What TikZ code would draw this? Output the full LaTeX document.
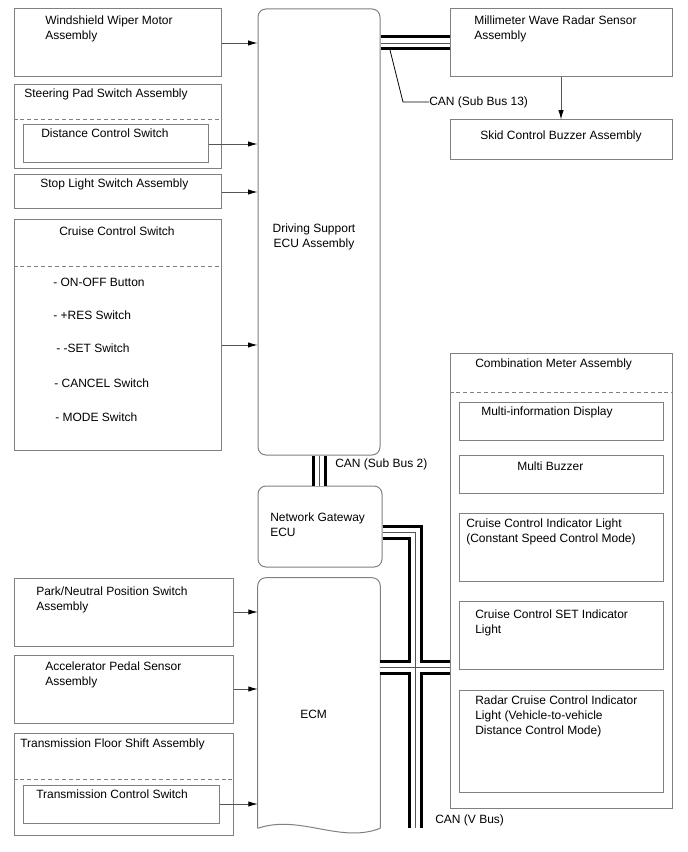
\documentclass[tikz,border=0pt]{standalone}
\usepackage{fontspec}
\setmainfont{Liberation Sans}
\usepackage{tikz}
\usetikzlibrary{arrows.meta, positioning, calc, fit}
\definecolor{boxgray}{RGB}{128,128,128}
\definecolor{wiregray}{RGB}{85,85,85}
\tikzset{
  box/.style={rectangle, draw=boxgray, line width=0.75pt, inner sep=0pt},
  ecubox/.style={box, rounded corners=6pt},
  sepline/.style={draw=boxgray, line width=0.6pt, dash pattern=on 3pt off 2.2pt},
  lbl/.style={font=\fontsize{9}{11.25}\selectfont, inner sep=0pt, anchor=north west, align=left},
  arr/.style={-{Latex[length=7pt,width=4pt,color=black]}, draw=wiregray, line width=0.6pt},
  leader/.style={draw=black, line width=0.6pt},
  busblack/.style={line width=11.25pt, draw=black},
  buswhite/.style={line width=6.75pt, draw=white},
  buswire/.style={line width=0.6pt, draw=wiregray}
}
\begin{document}
\begin{tikzpicture}[x=0.75pt, y=-0.75pt]
  \useasboundingbox (0,0) rectangle (688,852);

  % Left column, upper
  \node[box, fit={(14,9) (221,77)}] (wiper) {};
  \node[lbl] (wiper-t) at (45,15.5) {Windshield Wiper Motor\\Assembly};

  \node[box, fit={(14,85) (221,169)}] (steer) {};
  \node[lbl] (steer-t) at (24,88.5) {Steering Pad Switch Assembly};
  \draw[sepline] (steer.west |- 0,119) -- (steer.east |- 0,119);
  \node[box, fit={(23,125) (208,163)}] (dist) {};
  \node[lbl] (dist-t) at (41,128.5) {Distance Control Switch};

  \node[box, fit={(14,175) (221,209)}] (stop) {};
  \node[lbl] (stop-t) at (40,178.5) {Stop Light Switch Assembly};

  \node[box, fit={(14,220) (221,450)}] (cruise) {};
  \node[lbl, anchor=north] (cruise-t) at (117,226.5) {Cruise Control Switch};
  \draw[sepline] (cruise.west |- 0,266) -- (cruise.east |- 0,266);
  \node[lbl] (onoff) at (53,277.5) {- ON-OFF Button};
  \node[lbl] (res) at (53,310.5) {- +RES Switch};
  \node[lbl] (set) at (56,344) {- -SET Switch};
  \node[lbl] (cancel) at (54,379) {- CANCEL Switch};
  \node[lbl] (mode) at (55,413) {- MODE Switch};

  % ECUs
  \node[ecubox, fit={(258,9) (380,455)}] (dsecu) {};
  \node[lbl, anchor=north, align=center] (dsecu-t) at (314,223.5) {Driving Support\\ECU Assembly};

  \node[ecubox, fit={(258,486) (382,567)}] (gw) {};
  \node[lbl] (gw-t) at (270,512.5) {Network Gateway\\ECU};

  \node[inner sep=0pt, fit={(258,578) (380,828)}] (ecm) {};
  \draw[draw=boxgray, line width=0.75pt, rounded corners=6pt]
    (ecm.south west) -- (ecm.north west) -- (ecm.north east) -- (ecm.south east);
  \draw[draw=boxgray, line width=0.75pt]
    (ecm.south east) .. controls (340,844) and (300,814) .. (ecm.south west);
  \node[lbl] (ecm-t) at (300,709.5) {ECM};

  % Left column, lower
  \node[box, fit={(14,578) (233,646)}] (park) {};
  \node[lbl] (park-t) at (36,586.5) {Park/Neutral Position Switch\\Assembly};

  \node[box, fit={(14,655) (233,723)}] (accel) {};
  \node[lbl] (accel-t) at (45,661.5) {Accelerator Pedal Sensor\\Assembly};

  \node[box, fit={(14,733) (233,835)}] (trans) {};
  \node[lbl] (trans-t) at (20,738.5) {Transmission Floor Shift Assembly};
  \draw[sepline] (trans.west |- 0,779) -- (trans.east |- 0,779);
  \node[box, fit={(23,785) (219,823)}] (tcs) {};
  \node[lbl] (tcs-t) at (36,789.5) {Transmission Control Switch};

  % Right column
  \node[box, fit={(450,9) (672,77)}] (radar) {};
  \node[lbl] (radar-t) at (474,15.5) {Millimeter Wave Radar Sensor\\Assembly};

  \node[box, fit={(450,120) (672,160)}] (skid) {};
  \node[lbl] (skid-t) at (480,130.5) {Skid Control Buzzer Assembly};

  \node[box, fit={(450,353) (672,808)}] (meter) {};
  \node[lbl] (meter-t) at (475,359) {Combination Meter Assembly};
  \draw[sepline] (meter.west |- 0,392) -- (meter.east |- 0,392);
  \node[box, fit={(459,402) (663,440)}] (mid) {};
  \node[lbl] (mid-t) at (481,407) {Multi-information Display};
  \node[box, fit={(459,455) (663,493)}] (buzz) {};
  \node[lbl] (buzz-t) at (517,462) {Multi Buzzer};
  \node[box, fit={(459,513) (663,581)}] (ccind) {};
  \node[lbl] (ccind-t) at (466,518.5) {Cruise Control Indicator Light\\(Constant Speed Control Mode)};
  \node[box, fit={(459,601) (663,669)}] (setind) {};
  \node[lbl] (setind-t) at (475,609.5) {Cruise Control SET Indicator\\Light};
  \node[box, fit={(459,690) (663,792)}] (rcind) {};
  \node[lbl] (rcind-t) at (475,695.5) {Radar Cruise Control Indicator\\Light (Vehicle-to-vehicle\\Distance Control Mode)};

  % Signal arrows
  \draw[arr] (wiper.east) -- (wiper.east -| dsecu.west);
  \draw[arr] (dist.east) -- (dist.east -| dsecu.west);
  \draw[arr] (stop.east) -- (stop.east -| dsecu.west);
  \coordinate (ccout) at ([shift={(0,10)}]cruise.east);
  \draw[arr] (ccout) -- (ccout -| dsecu.west);
  \draw[arr] (park.east) -- (park.east -| ecm.west);
  \draw[arr] (accel.east) -- (accel.east -| ecm.west);
  \draw[arr] (tcs.east) -- (tcs.east -| ecm.west);
  \draw[arr] (radar.south) -- (radar.south |- skid.north);

  % CAN buses
  \coordinate (vtop) at (415,532);
  \coordinate (vend) at (415,828);
  \coordinate (vx) at (415,667.5);
  \foreach \s in {busblack, buswhite, buswire} {
    \draw[\s] (radar.west -| dsecu.east) -- (radar.west);
    \draw[\s] (dsecu.south) -- (dsecu.south |- gw.north);
    \draw[\s] (gw.east |- vtop) -- (vtop) -- (vend);
    \draw[\s] (vx -| ecm.east) -- (vx -| meter.west);
  }

  % Bus labels
  \coordinate (sb13pt) at (390,50);
  \node[lbl, anchor=west] (sb13-t) at (429,102) {CAN (Sub Bus 13)};
  \draw[leader] (sb13pt) -- (403,102) -- (sb13-t.west);
  \node[lbl, anchor=west] (sb2-t) at (335,464) {CAN (Sub Bus 2)};
  \node[lbl, anchor=west] (vbus-t) at (435,820) {CAN (V Bus)};
\end{tikzpicture}
\end{document}
